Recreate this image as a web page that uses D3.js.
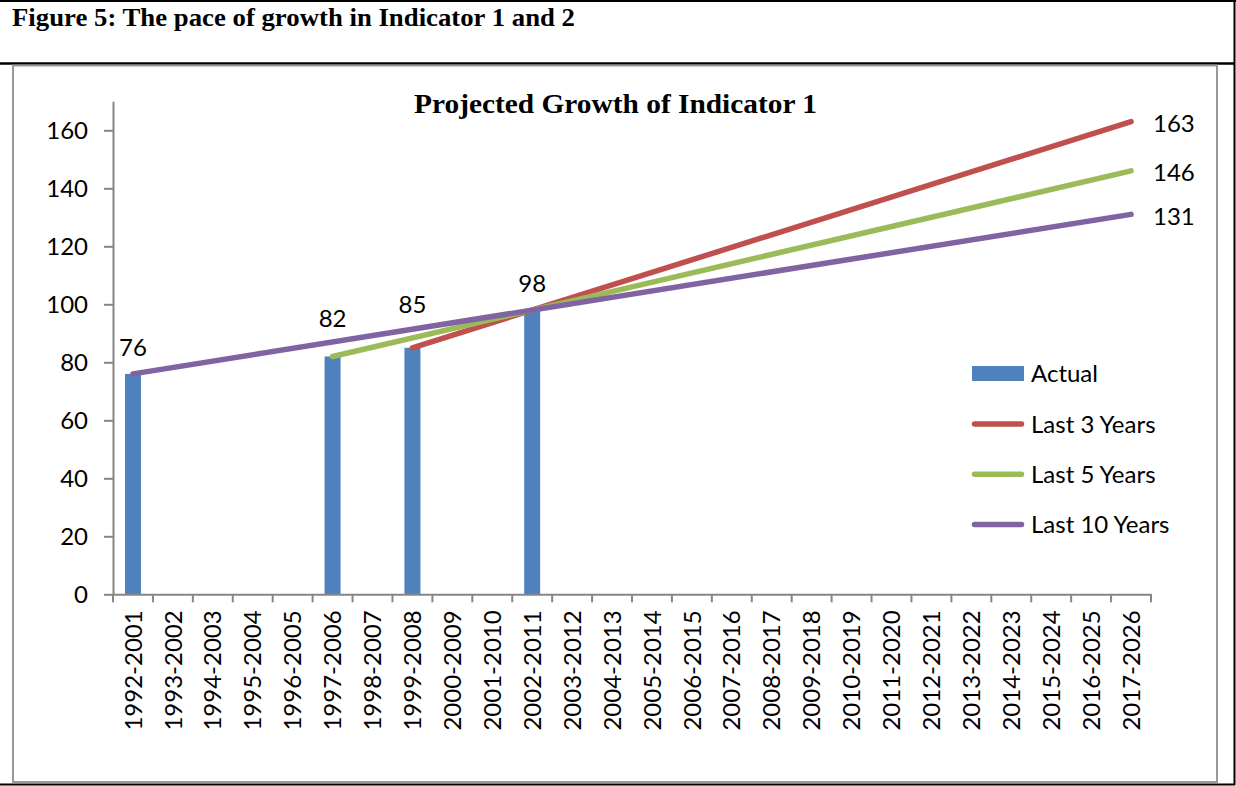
<!DOCTYPE html>
<html>
<head>
<meta charset="utf-8">
<script src="https://cdn.jsdelivr.net/npm/d3@7"></script>
<style>
  body { margin: 0; background: #fff; }
  svg { display: block; }
</style>
</head>
<body>
<div id="chart-container"></div>
<script>
const categories = [
  "1992-2001", "1993-2002", "1994-2003", "1995-2004", "1996-2005",
  "1997-2006", "1998-2007", "1999-2008", "2000-2009", "2001-2010",
  "2002-2011", "2003-2012", "2004-2013", "2005-2014", "2006-2015",
  "2007-2016", "2008-2017", "2009-2018", "2010-2019", "2011-2020",
  "2012-2021", "2013-2022", "2014-2023", "2015-2024", "2016-2025",
  "2017-2026"
];

const actual = [
  { cat: "1992-2001", value: 76 },
  { cat: "1997-2006", value: 82 },
  { cat: "1999-2008", value: 85 },
  { cat: "2002-2011", value: 98 }
];

const last3Years = [
  { cat: "1999-2008", value: 85 },
  { cat: "2017-2026", value: 163 }
];
const last5Years = [
  { cat: "1997-2006", value: 82 },
  { cat: "2017-2026", value: 146 }
];
const last10Years = [
  { cat: "1992-2001", value: 76 },
  { cat: "2017-2026", value: 131 }
];

const yTicks = [0, 20, 40, 60, 80, 100, 120, 140, 160];

const figureTitle = "Figure 5: The pace of growth in Indicator 1 and 2";
const chartTitle = "Projected Growth of Indicator 1";

const drawChart = () => {
  const W = 1236, H = 786;
  const font = "Lato, 'Open Sans', sans-serif";
  const serif = "'Liberation Serif', 'Times New Roman', serif";
  const axisColor = "#868686";

  const svg = d3.select("#chart-container")
    .append("svg")
    .attr("width", W)
    .attr("height", H);

  // frame of the figure
  svg.append("line").attr("x1", 0).attr("x2", W).attr("y1", 1).attr("y2", 1)
    .attr("stroke", "#000").attr("stroke-width", 2);
  svg.append("line").attr("x1", 0).attr("x2", 1235).attr("y1", 63.5).attr("y2", 63.5)
    .attr("stroke", "#000").attr("stroke-width", 2.5);
  svg.append("line").attr("x1", 1234.5).attr("x2", 1234.5).attr("y1", 0).attr("y2", 785)
    .attr("stroke", "#000").attr("stroke-width", 2);
  svg.append("line").attr("x1", 0).attr("x2", 1235).attr("y1", 784.5).attr("y2", 784.5)
    .attr("stroke", "#000").attr("stroke-width", 2);

  svg.append("text")
    .attr("x", 12).attr("y", 26)
    .attr("font-family", serif).attr("font-weight", "bold")
    .attr("font-size", 24.5)
    .attr("textLength", 563)
    .attr("lengthAdjust", "spacingAndGlyphs")
    .text(figureTitle);

  // chart area box
  svg.append("rect")
    .attr("x", 13).attr("y", 65.5)
    .attr("width", 1204).attr("height", 716.5)
    .attr("fill", "none").attr("stroke", "#9a9a9a").attr("stroke-width", 2);

  svg.append("text")
    .attr("x", 414).attr("y", 113)
    .attr("font-family", serif).attr("font-weight", "bold")
    .attr("font-size", 28)
    .attr("textLength", 403)
    .attr("lengthAdjust", "spacingAndGlyphs")
    .text(chartTitle);

  const x = d3.scaleBand()
    .domain(categories)
    .range([113, 1151]);

  const xBar = d3.scaleBand()
    .domain(categories)
    .range([113, 1151])
    .paddingInner(0.6)
    .paddingOuter(0.3);

  const y = d3.scaleLinear()
    .domain([0, 170])
    .range([594.3, 101.3]);

  const cx = (c) => x(c) + x.bandwidth() / 2;

  // y axis
  const yAxis = svg.append("g")
    .attr("transform", "translate(113,0)")
    .call(d3.axisLeft(y).tickValues(yTicks).tickSize(9).tickPadding(16).tickSizeOuter(0));
  yAxis.select(".domain").attr("stroke", axisColor).attr("stroke-width", 2);
  yAxis.selectAll(".tick line").attr("stroke", axisColor).attr("stroke-width", 2);
  yAxis.selectAll(".tick text")
    .attr("font-family", font).attr("font-size", 24).attr("fill", "#000")
    .attr("dy", "0.35em");

  // bars
  svg.append("g")
    .selectAll("rect")
    .data(actual)
    .join("rect")
    .attr("x", (d) => xBar(d.cat))
    .attr("y", (d) => y(d.value))
    .attr("width", xBar.bandwidth())
    .attr("height", (d) => y(0) - y(d.value))
    .attr("fill", "#4F81BD");

  // x axis
  const xAxis = svg.append("g")
    .attr("transform", `translate(0,${y(0)})`)
    .call(d3.axisBottom(x).tickSize(0).tickSizeOuter(0));
  xAxis.select(".domain").attr("stroke", axisColor).attr("stroke-width", 2);
  xAxis.selectAll(".tick text")
    .attr("font-family", font).attr("font-size", 24).attr("fill", "#000")
    .attr("transform", "rotate(-90)")
    .attr("text-anchor", "end")
    .attr("x", -16).attr("y", 0).attr("dy", "0.36em");
  // tick marks between categories
  xAxis.append("g")
    .selectAll("line")
    .data(categories.concat(["end"]))
    .join("line")
    .attr("x1", (d, i) => i < categories.length ? x(d) : x(categories[categories.length - 1]) + x.bandwidth())
    .attr("x2", (d, i) => i < categories.length ? x(d) : x(categories[categories.length - 1]) + x.bandwidth())
    .attr("y1", 0).attr("y2", 8)
    .attr("stroke", axisColor).attr("stroke-width", 2);

  // projection lines
  const series = [
    { name: "Last 3 Years", data: last3Years, color: "#C0504D" },
    { name: "Last 5 Years", data: last5Years, color: "#9BBB59" },
    { name: "Last 10 Years", data: last10Years, color: "#8064A2" }
  ];

  const line = d3.line()
    .x((d) => cx(d.cat))
    .y((d) => y(d.value));

  svg.append("g")
    .selectAll("path")
    .data(series)
    .join("path")
    .attr("d", (d) => line(d.data))
    .attr("fill", "none")
    .attr("stroke", (d) => d.color)
    .attr("stroke-width", 5.5)
    .attr("stroke-linecap", "round")
    .attr("stroke-linejoin", "round");

  // end labels of projections
  svg.append("g")
    .selectAll("text")
    .data(series)
    .join("text")
    .attr("x", (d) => cx(d.data[d.data.length - 1].cat) + 22)
    .attr("y", (d) => y(d.data[d.data.length - 1].value) + 1.5)
    .attr("dy", "0.36em")
    .attr("font-family", font).attr("font-size", 24)
    .text((d) => d.data[d.data.length - 1].value);

  // labels on bars, lifted to clear the lines
  const lift = [27, 38.5, 43, 27];
  svg.append("g")
    .selectAll("text")
    .data(actual)
    .join("text")
    .attr("x", (d) => cx(d.cat))
    .attr("y", (d, i) => y(d.value) - lift[i])
    .attr("dy", "0.36em")
    .attr("text-anchor", "middle")
    .attr("font-family", font).attr("font-size", 24)
    .text((d) => d.value);

  // legend
  const legend = svg.append("g").attr("transform", "translate(972,0)");
  legend.append("rect")
    .attr("x", 0).attr("y", 366)
    .attr("width", 52).attr("height", 15)
    .attr("fill", "#4F81BD");
  legend.append("text")
    .attr("x", 59).attr("y", 373.5).attr("dy", "0.36em")
    .attr("font-family", font).attr("font-size", 24)
    .text("Actual");

  const rows = legend.selectAll("g.row")
    .data(series)
    .join("g")
    .attr("class", "row")
    .attr("transform", (d, i) => `translate(0,${424 + i * 50.3})`);
  rows.append("line")
    .attr("x1", 2.5).attr("x2", 49.5)
    .attr("stroke", (d) => d.color)
    .attr("stroke-width", 5.5)
    .attr("stroke-linecap", "round");
  rows.append("text")
    .attr("x", 59).attr("dy", "0.36em")
    .attr("font-family", font).attr("font-size", 24)
    .text((d) => d.name);
};

drawChart();
</script>
</body>
</html>
